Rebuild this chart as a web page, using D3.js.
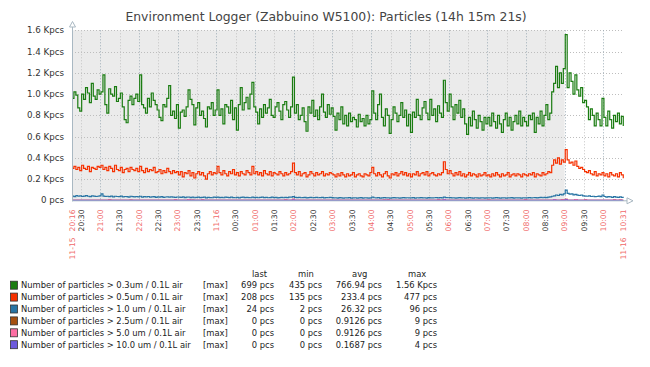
<!DOCTYPE html>
<html><head><meta charset="utf-8">
<script src="https://cdn.jsdelivr.net/npm/d3@7"></script>
<style>html,body{margin:0;padding:0;background:#fff;}svg{display:block;font-family:"DejaVu Sans",sans-serif;}</style>
</head><body><svg id="chart" width="650" height="367"></svg>
<script>
// ---- data (3-minute samples from 11-15 20:16 to 11-16 10:31) ----
const title = "Environment Logger (Zabbuino W5100): Particles (14h 15m 21s)";
const startTime = new Date(2015, 10, 15, 20, 16, 0);
const endTime = new Date(2015, 10, 16, 10, 31, 21);
const workStart = new Date(2015, 10, 16, 9, 0, 0);
const stepMinutes = 3;

const seriesNames = [
  "Number of particles > 0.3um / 0.1L air",
  "Number of particles > 0.5um / 0.1L air",
  "Number of particles > 1.0 um / 0.1L air",
  "Number of particles > 2.5um / 0.1L air",
  "Number of particles > 5.0 um / 0.1L air",
  "Number of particles > 10.0 um / 0.1L air"
];
const seriesColors = ["#1A7C11", "#F63100", "#2774A4", "#A54F10", "#FC6EA3", "#6C59DC"];
const legendFunc = ["[max]", "[max]", "[max]", "[max]", "[max]", "[max]"];
const legendLast = ["699 pcs", "208 pcs", "24 pcs", "0 pcs", "0 pcs", "0 pcs"];
const legendMin  = ["435 pcs", "135 pcs", "2 pcs", "0 pcs", "0 pcs", "0 pcs"];
const legendAvg  = ["766.94 pcs", "233.4 pcs", "26.32 pcs", "0.9126 pcs", "0.9126 pcs", "0.1687 pcs"];
const legendMax  = ["1.56 Kpcs", "477 pcs", "96 pcs", "9 pcs", "9 pcs", "4 pcs"];
const legendHeaders = ["last", "min", "avg", "max"];

const yTicks = [0, 200, 400, 600, 800, 1000, 1200, 1400, 1600];

const pm03 = [
  960,1020,990,870,840,1000,950,1060,1010,920,1100,980,950,1040,1000,
  1020,1180,900,820,1050,1000,980,1070,930,960,1010,880,760,730,940,980,900,960,1000,930,
  1180,900,870,820,960,880,1010,940,900,850,780,750,900,880,960,1080,800,840,770,900,
  680,830,850,790,880,1040,950,900,710,870,920,800,840,770,690,880,860,920,800,850,
  1040,800,860,720,900,880,820,940,760,870,660,900,1060,850,920,970,860,1000,1110,880,
  830,720,860,780,900,820,870,950,800,780,880,920,840,760,900,930,850,780,880,1160,
  820,900,760,800,870,740,650,880,820,940,790,850,760,880,1000,830,780,900,810,870,
  790,660,820,760,880,720,800,700,820,740,780,760,690,810,740,770,700,800,720,760,
  1030,820,760,900,1000,780,700,860,800,630,760,880,820,740,800,920,780,850,700,810,
  640,830,780,950,800,760,870,930,820,760,950,800,860,740,890,820,780,1130,920,840,
  1000,880,760,900,820,940,780,860,720,620,780,700,840,760,680,800,740,660,780,720,
  780,700,820,740,680,800,720,640,760,820,700,780,660,740,800,720,840,700,780,740,
  700,800,760,820,640,780,720,840,700,800,900,760,820,1020,1100,1260,1060,1200,1100,1240,
  1560,1060,1200,1120,1000,1180,1040,980,1060,920,940,880,760,860,800,700,820,760,700,960,
  780,700,840,760,680,800,740,820,720,790,699
];
const pm05 = [
  300,320,290,310,280,330,300,290,320,270,310,300,290,320,310,
  330,290,310,280,320,300,270,330,290,280,310,260,290,300,270,310,290,280,300,270,
  320,280,260,300,270,290,280,310,260,270,290,250,280,260,300,270,250,280,260,270,
  240,270,220,260,250,280,230,260,210,250,270,240,260,230,200,250,270,240,260,250,
  320,260,240,280,250,230,270,250,290,240,260,230,270,250,240,280,260,240,320,250,
  270,240,260,230,280,250,240,270,230,260,250,240,270,250,230,260,240,250,270,350,
  260,240,270,230,250,260,220,240,270,250,230,260,240,250,270,230,250,240,260,250,
  240,220,250,230,260,240,220,250,230,240,260,220,240,250,230,220,250,240,230,260,
  310,250,230,260,240,220,250,270,230,210,250,240,260,230,250,270,240,260,230,250,
  220,250,240,270,230,250,260,240,270,230,250,260,240,230,250,240,260,363,290,250,
  280,250,230,260,240,270,230,250,220,240,260,230,250,240,220,250,230,240,260,230,
  240,220,250,230,260,240,220,250,230,240,260,220,240,250,230,250,240,220,250,240,
  230,250,240,260,220,250,240,230,260,240,250,270,260,330,380,350,400,340,380,360,
  477,380,350,360,330,370,320,300,310,290,270,260,280,250,240,270,230,250,240,260,
  230,250,220,260,240,230,250,220,260,240,208
];
const pm10 = [
  40,35,45,38,42,36,40,44,38,35,42,40,36,38,41,
  60,40,36,38,35,40,33,38,36,34,40,32,36,35,30,38,34,32,36,33,
  38,30,34,32,36,30,33,35,28,32,30,34,28,31,33,29,32,30,28,31,
  30,27,32,25,29,31,26,30,24,28,30,25,27,29,22,28,26,24,29,27,
  30,26,28,24,30,27,25,29,26,24,28,23,27,30,25,28,26,24,29,26,
  28,24,27,30,25,28,24,26,29,25,27,23,26,28,24,27,25,29,30,35,
  28,25,27,24,26,28,23,25,27,24,26,28,24,25,27,23,26,24,27,25,
  22,24,21,25,23,20,24,22,25,21,23,24,20,22,25,21,24,23,20,22,
  30,24,22,25,21,23,26,22,24,20,23,25,22,24,21,23,25,22,24,23,
  22,25,21,24,23,26,22,24,21,25,23,22,24,26,23,25,22,30,26,24,
  25,22,24,21,23,25,22,24,20,23,25,22,21,24,23,20,22,24,21,23,
  22,24,21,23,25,22,20,23,24,21,23,22,25,21,24,22,23,21,24,22,
  23,25,22,24,26,23,25,27,24,28,26,30,32,38,42,50,45,55,52,60,
  96,65,58,60,52,55,48,45,50,42,40,38,42,36,38,34,36,40,34,50,
  36,30,34,32,28,35,30,27,32,28,24
];
const pm25 = [
  0,0,0,0,0,0,0,0,0,0,0,0,0,0,0,
  0,0,0,0,5,0,0,0,0,0,0,0,0,0,0,3,0,0,0,0,
  0,0,0,0,0,0,0,0,0,0,0,0,0,0,0,0,0,0,4,0,
  0,0,0,0,0,6,0,3,0,0,0,0,5,0,0,0,0,0,0,0,
  0,0,0,0,0,0,0,0,0,0,0,0,0,0,0,0,0,0,0,0,
  0,0,0,0,0,0,0,0,0,0,0,0,0,0,0,4,0,0,0,9,
  0,0,0,0,0,0,0,0,0,0,0,0,0,0,0,0,0,0,0,0,
  0,0,0,0,0,0,0,0,0,0,0,0,0,0,0,0,0,0,0,0,
  0,0,0,0,0,0,3,0,5,0,0,0,0,0,0,0,0,0,0,0,
  0,0,0,0,0,0,0,0,0,0,0,0,0,0,4,0,0,6,0,0,
  0,0,0,0,0,0,0,0,0,0,0,0,0,0,0,0,0,0,0,0,
  3,0,0,0,0,0,0,0,0,0,0,0,0,0,0,0,0,0,0,5,
  0,0,0,0,0,0,0,0,0,0,0,0,0,0,7,0,0,0,4,0,
  9,0,0,0,0,6,0,0,0,0,4,0,0,0,0,0,0,0,0,0,
  0,0,0,0,0,5,0,0,3,0,0
];
const pm50 = [
  0,0,0,0,0,0,0,0,0,0,0,0,0,0,0,
  0,0,0,0,5,0,0,0,0,0,0,0,0,0,0,3,0,0,0,0,
  0,0,0,0,0,0,0,0,0,0,0,0,0,0,0,0,0,0,4,0,
  0,0,0,0,0,6,0,3,0,0,0,0,5,0,0,0,0,0,0,0,
  0,0,0,0,0,0,0,0,0,0,0,0,0,0,0,0,0,0,0,0,
  0,0,0,0,0,0,0,0,0,0,0,0,0,0,0,4,0,0,0,9,
  0,0,0,0,0,0,0,0,0,0,0,0,0,0,0,0,0,0,0,0,
  0,0,0,0,0,0,0,0,0,0,0,0,0,0,0,0,0,0,0,0,
  0,0,0,0,0,0,3,0,5,0,0,0,0,0,0,0,0,0,0,0,
  0,0,0,0,0,0,0,0,0,0,0,0,0,0,4,0,0,6,0,0,
  0,0,0,0,0,0,0,0,0,0,0,0,0,0,0,0,0,0,0,0,
  3,0,0,0,0,0,0,0,0,0,0,0,0,0,0,0,0,0,0,5,
  0,0,0,0,0,0,0,0,0,0,0,0,0,0,7,0,0,0,4,0,
  9,0,0,0,0,6,0,0,0,0,4,0,0,0,0,0,0,0,0,0,
  0,0,0,0,0,5,0,0,3,0,0
];
const pm100 = [
  0,0,0,0,0,0,0,0,0,0,0,0,0,0,0,
  0,0,0,0,0,0,0,0,0,0,0,0,0,0,0,0,0,0,0,0,
  0,0,0,0,0,0,0,0,0,0,0,0,0,0,0,0,0,0,0,0,
  0,0,0,0,0,0,0,0,0,0,0,0,0,0,0,0,0,0,0,0,
  0,0,0,0,0,0,0,0,0,0,0,0,0,0,0,0,0,0,0,0,
  0,0,0,0,0,0,0,0,0,0,0,0,0,0,0,0,0,0,0,2,
  0,0,0,0,0,0,0,0,0,0,0,0,0,0,0,0,0,0,0,0,
  0,0,0,0,0,0,0,0,0,0,0,0,0,0,0,0,0,0,0,0,
  0,0,0,0,0,0,0,0,0,0,0,0,0,0,0,0,0,0,0,0,
  0,0,0,0,0,0,0,0,0,0,0,0,0,0,0,0,0,1,0,0,
  0,0,0,0,0,0,0,0,0,0,0,0,0,0,0,0,0,0,0,0,
  0,0,0,0,0,0,0,0,0,0,0,0,0,0,0,0,0,0,0,0,
  0,0,0,0,0,0,0,0,0,0,0,0,0,0,2,0,0,0,0,0,
  4,0,0,0,0,0,0,0,0,0,0,0,0,0,0,0,0,0,0,0,
  0,0,0,0,0,0,0,0,0,0,0
];
const seriesValues = [pm03, pm05, pm10, pm25, pm50, pm100];

// ---- layout ----
const svg = d3.select("#chart");
const plotL = 72, plotR = 623.5, plotT = 30.3, plotB = 200.3;
const x = d3.scaleTime().domain([startTime, endTime]).range([plotL, plotR]);
const y = d3.scaleLinear().domain([0, 1600]).range([plotB, plotT]);
const timeOf = i => new Date(startTime.getTime() + i * stepMinutes * 60000);

svg.append("rect").attr("width", 650).attr("height", 367).attr("fill", "#ffffff");

// title
svg.append("text").attr("x", 326).attr("y", 21).attr("text-anchor", "middle")
  .attr("font-size", 12.4).attr("fill", "#444").text(title);

// non-working-time background
svg.append("rect").attr("x", x(startTime)).attr("y", plotT)
  .attr("width", x(workStart) - x(startTime)).attr("height", plotB - plotT)
  .attr("fill", "#ebebeb");

// horizontal grid
svg.append("g").selectAll("line").data(yTicks.filter(d => d > 0)).join("line")
  .attr("x1", plotL).attr("x2", plotR)
  .attr("y1", d => Math.round(y(d)) + 0.5).attr("y2", d => Math.round(y(d)) + 0.5)
  .attr("stroke", "#bdbdbd").attr("stroke-dasharray", "1,2").attr("stroke-width", 1);

// vertical grid (half-hour marks; the one too close to the end is skipped)
const halfHours = d3.timeMinute.every(30).range(startTime, endTime)
  .filter(t => (endTime - t) > 10 * 60000);
svg.append("g").selectAll("line").data(halfHours).join("line")
  .attr("x1", d => Math.round(x(d)) + 0.5).attr("x2", d => Math.round(x(d)) + 0.5)
  .attr("y1", plotT).attr("y2", plotB)
  .attr("stroke", d => d.getMinutes() === 0 ? "#9eadb7" : "#c4c4c4")
  .attr("stroke-dasharray", "1,2").attr("stroke-width", 1);

// y labels
svg.append("g").selectAll("text").data(yTicks).join("text")
  .attr("x", 64).attr("y", d => y(d)).attr("dy", "0.35em")
  .attr("text-anchor", "end").attr("font-size", 8.7).attr("fill", "#333")
  .text(d => d === 0 ? "0 pcs" : d3.format(".1f")(d / 1000) + " Kpcs");

// series lines
const line = d3.line().x((d, i) => x(timeOf(i))).y(d => y(d)).curve(d3.curveStepAfter);
seriesValues.forEach((vals, k) => {
  svg.append("path").datum(vals).attr("d", line)
    .attr("fill", "none").attr("stroke", seriesColors[k]).attr("stroke-width", 1.2);
});

// axes
const axisColor = "#a9b8c2";
svg.append("line").attr("x1", plotL + 0.5).attr("x2", plotL + 0.5).attr("y1", 26).attr("y2", plotB + 1)
  .attr("stroke", axisColor);
svg.append("path").attr("d", `M${plotL - 2.5},27 L${plotL + 3.5},27 L${plotL + 0.5},21.5 Z`)
  .attr("fill", "#fff").attr("stroke", axisColor);
svg.append("line").attr("x1", plotL).attr("x2", 628).attr("y1", plotB + 0.5).attr("y2", plotB + 0.5)
  .attr("stroke", axisColor);
svg.append("path").attr("d", `M627,${plotB - 2.5} L627,${plotB + 3.5} L633,${plotB + 0.5} Z`)
  .attr("fill", "#fff").attr("stroke", axisColor);

// x labels
const fmtDate = d3.timeFormat("%m-%d"), fmtHM = d3.timeFormat("%H:%M");
const xLabels = [{t: startTime, date: fmtDate(startTime), s: fmtHM(startTime), red: true}]
  .concat(halfHours.map(t => {
    const midnight = t.getHours() === 0 && t.getMinutes() === 0;
    return {t, date: null, s: midnight ? fmtDate(t) : fmtHM(t), red: t.getMinutes() === 0};
  }))
  .concat([{t: endTime, date: fmtDate(endTime), s: fmtHM(endTime), red: true}]);
const xl = svg.append("g").selectAll("text").data(xLabels).join("text")
  .attr("transform", d => `translate(${x(d.t) + 2.7},209.5) rotate(-90)`)
  .attr("text-anchor", "end").attr("font-size", 7.6)
  .attr("fill", d => d.red ? "#f06a6a" : "#333");
xl.each(function(d) {
  const t = d3.select(this);
  if (d.date) {
    t.append("tspan").text(d.date);
    t.append("tspan").attr("dx", 6).text(d.s);
  } else {
    t.text(d.s);
  }
});

// legend
const lg = svg.append("g");
const headX = [252, 298, 352, 408];
legendHeaders.forEach((h, i) => lg.append("text").attr("x", headX[i]).attr("y", 277)
  .attr("font-size", 8.4).attr("fill", "#222").text(h));
const colX = [274, 322, 382, 437];
seriesNames.forEach((name, k) => {
  const cy = 285 + k * 11.9;
  lg.append("rect").attr("x", 10.5).attr("y", cy - 3.8).attr("width", 7).attr("height", 8)
    .attr("fill", seriesColors[k]).attr("stroke", "#333").attr("stroke-width", 0.8);
  lg.append("text").attr("x", 21).attr("y", cy + 3).attr("font-size", 8.4).attr("fill", "#222").text(name);
  lg.append("text").attr("x", 203).attr("y", cy + 3).attr("font-size", 8.4).attr("fill", "#222").text(legendFunc[k]);
  [legendLast[k], legendMin[k], legendAvg[k], legendMax[k]].forEach((v, j) =>
    lg.append("text").attr("x", colX[j]).attr("y", cy + 3).attr("text-anchor", "end")
      .attr("font-size", 8.4).attr("fill", "#222").text(v));
});
</script></body></html>
